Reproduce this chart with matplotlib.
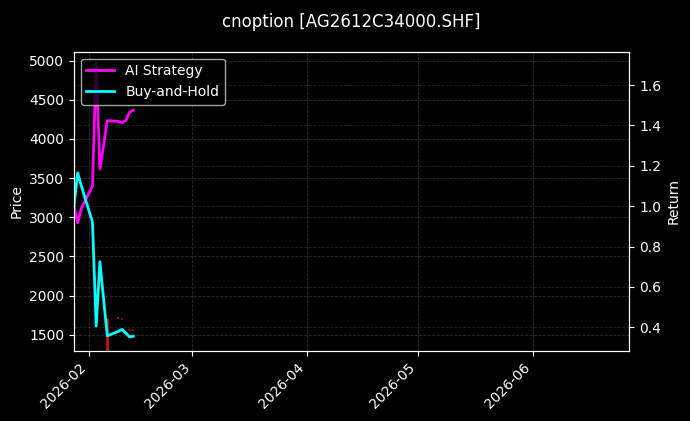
import matplotlib
matplotlib.use("Agg")
import matplotlib.pyplot as plt
import matplotlib.dates as mdates
import pandas as pd

plt.style.use("dark_background")

dates = pd.to_datetime([
    "2026-01-28", "2026-01-29", "2026-01-30", "2026-02-02", "2026-02-03",
    "2026-02-04", "2026-02-05", "2026-02-06", "2026-02-09", "2026-02-10",
    "2026-02-11", "2026-02-12", "2026-02-13",
])
ai_strategy = [1.00, 0.918, 0.99, 1.10, 1.709, 1.185, 1.30, 1.424, 1.42, 1.413, 1.424, 1.465, 1.475]
buy_hold = [1.00, 1.165, 1.10, 0.92, 0.406, 0.725, 0.54, 0.358, 0.38, 0.39, 0.372, 0.353, 0.356]

# faint price marks visible on the price axis
mark_dates = pd.to_datetime(["2026-02-06"])
mark_high = [1713]
mark_low = [1150]
dot_dates = pd.to_datetime(["2026-02-09", "2026-02-10", "2026-02-12", "2026-02-13"])
dot_prices = [1710, 1700, 1560, 1565]

x_start = pd.Timestamp("2026-01-28")
x_end = pd.Timestamp("2026-06-27")
price_lim = (1292, 5115)
ret_lim = (0.283, 1.765)

fig = plt.figure(figsize=(6.9, 4.21), dpi=100)
ax1 = fig.add_axes([0.1072, 0.1663, 0.8048, 0.7109])
ax2 = ax1.twinx()

ax1.vlines(mark_dates, mark_low, mark_high, color="#e01010", linewidth=1.8)
ax1.scatter(dot_dates, dot_prices, color="#801010", s=2, marker="s", linewidths=0)
ax1.set_ylim(*price_lim)
ax1.set_ylabel("Price")
ax1.grid(True, linestyle="--", color="gray", alpha=0.35, linewidth=0.6)

ax2.plot(dates, ai_strategy, color="#ff00ff", linewidth=2, label="AI Strategy")
ax2.plot(dates, buy_hold, color="#00ffff", linewidth=2, label="Buy-and-Hold")
ax2.set_ylim(*ret_lim)
ax2.set_ylabel("Return")
ax2.grid(True, linestyle="--", color="gray", alpha=0.25, linewidth=0.6)

ax1.set_xlim(x_start, x_end)
ax1.xaxis.set_major_locator(mdates.MonthLocator())
ax1.xaxis.set_major_formatter(mdates.DateFormatter("%Y-%m"))
for lbl in ax1.get_xticklabels():
    lbl.set_rotation(45)
    lbl.set_ha("right")

ax1.set_title("cnoption [AG2612C34000.SHF]", pad=18)
leg = ax2.legend(loc="upper left", framealpha=0.8, facecolor="black", edgecolor="0.8")

fig.savefig("out.png", dpi=100, facecolor="black")
